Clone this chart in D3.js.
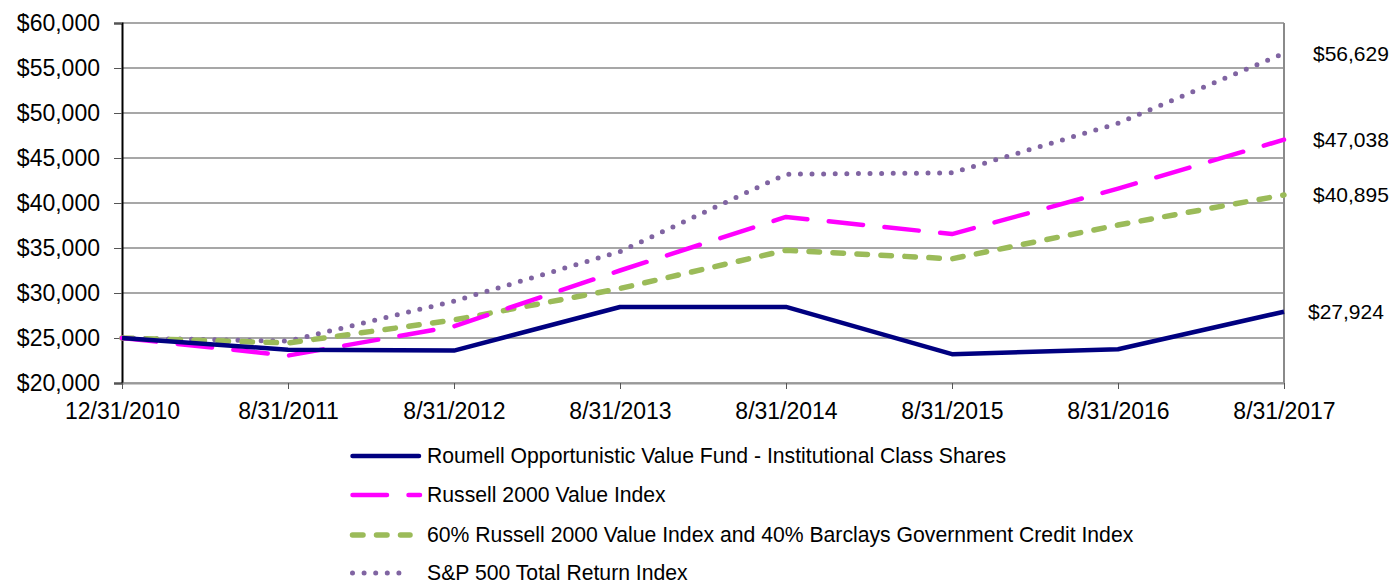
<!DOCTYPE html>
<html lang="en">
<head>
<meta charset="utf-8">
<script src="https://d3js.org/d3.v7.min.js"></script>
<style>
  body { margin: 0; background: #fff; }
  text { font-family: "Liberation Sans", Arial, sans-serif; fill: #000; }
</style>
</head>
<body>
<script>
// categories and series values
var dates = ["12/31/2010", "8/31/2011", "8/31/2012", "8/31/2013", "8/31/2014", "8/31/2015", "8/31/2016", "8/31/2017"];
var fund    = [25000, 23700, 23600, 28450, 28450, 23200, 23750, 27924];
var russell = [25000, 23050, 26300, 32500, 38450, 36550, 41600, 47038];
var blend   = [25000, 24450, 27000, 30500, 34750, 33800, 37550, 40895];
var sp500   = [25000, 24650, 29100, 34600, 43200, 43350, 48850, 56629];
var yTicks  = [20000, 25000, 30000, 35000, 40000, 45000, 50000, 55000, 60000];
var seriesNames = [
  "Roumell Opportunistic Value Fund - Institutional Class Shares",
  "Russell 2000 Value Index",
  "60% Russell 2000 Value Index and 40% Barclays Government Credit Index",
  "S&P 500 Total Return Index"
];

var w = 1392, h = 585;
var plotLeft = 122, plotRight = 1284, plotTop = 23, plotBottom = 383;

var svg = d3.select("body").append("svg")
  .attr("width", w).attr("height", h);

var x = d3.scalePoint().domain(dates).range([plotLeft, plotRight]);
var y = d3.scaleLinear().domain([20000, 60000]).range([plotBottom, plotTop]);
var fmt = d3.format("$,");

// gridlines
svg.append("g").selectAll("line")
  .data(yTicks)
  .enter().append("line")
  .attr("x1", plotLeft).attr("x2", plotRight)
  .attr("y1", function(d) { return y(d); })
  .attr("y2", function(d) { return y(d); })
  .attr("stroke", "#8a8a8a")
  .attr("stroke-width", 1.5);

// right border
svg.append("line")
  .attr("x1", plotRight).attr("x2", plotRight).attr("y1", plotTop).attr("y2", plotBottom)
  .attr("stroke", "#8a8a8a").attr("stroke-width", 2);

// y axis
var yAxis = d3.axisLeft(y).tickValues(yTicks).tickFormat(fmt).tickSize(8).tickPadding(14);
var gy = svg.append("g").attr("transform", "translate(" + plotLeft + ",0)").call(yAxis);
gy.select(".domain").attr("stroke", "#000").attr("stroke-width", 2);
gy.selectAll(".tick line").attr("stroke", "#555");
gy.selectAll("text").style("font-size", "23px").style("font-family", "'Liberation Sans', Arial, sans-serif").attr("fill", "#000");

// x axis
var xAxis = d3.axisBottom(x).tickSize(6).tickPadding(14).tickSizeOuter(0);
var gx = svg.append("g").attr("transform", "translate(0," + plotBottom + ")").call(xAxis);
gx.select(".domain").attr("stroke", "#999").attr("stroke-width", 2);
gx.selectAll(".tick line").attr("stroke", "#555");
gx.selectAll("text").style("font-size", "23px").style("font-family", "'Liberation Sans', Arial, sans-serif").attr("fill", "#000");

// series styles
var series = [
  { name: seriesNames[0], values: fund,    color: "#000080", width: 4.5, dash: null,        legendEnd: 419 },
  { name: seriesNames[1], values: russell, color: "#FF00FF", width: 4.5, dash: "34.5,21.5", legendEnd: 420 },
  { name: seriesNames[2], values: blend,   color: "#9BBB59", width: 5.5, dash: "10.5,13.5", legendEnd: 410 },
  { name: seriesNames[3], values: sp500,   color: "#8064A2", width: 5,   dash: "0,11.6",    legendEnd: 410 }
];

var line = d3.line()
  .x(function(d, i) { return x(dates[i]); })
  .y(function(d) { return y(d); });

// draw back to front so the fund sits on top like the reference
[3, 2, 1, 0].forEach(function(k) {
  var s = series[k];
  svg.append("path")
    .datum(s.values)
    .attr("fill", "none")
    .attr("stroke", s.color)
    .attr("stroke-width", s.width)
    .attr("stroke-linecap", s.dash ? "round" : "butt")
    .attr("stroke-linejoin", "round")
    .attr("stroke-dasharray", s.dash)
    .attr("d", line);
});

// end labels
var labelX = [1308, 1313, 1313, 1313];
series.forEach(function(s, k) {
  var v = s.values[s.values.length - 1];
  svg.append("text")
    .attr("x", labelX[k])
    .attr("y", y(v))
    .attr("dy", "0.35em")
    .style("font-size", "21px")
    .text(fmt(v));
});

// legend
var legendY = [456, 495, 535, 573];
series.forEach(function(s, k) {
  var g = svg.append("g").attr("transform", "translate(0," + legendY[k] + ")");
  g.append("line")
    .attr("x1", 352.5).attr("x2", s.legendEnd)
    .attr("stroke", s.color)
    .attr("stroke-width", s.width)
    .attr("stroke-linecap", "round")
    .attr("stroke-dasharray", s.dash);
  g.append("text")
    .attr("x", 427)
    .attr("dy", "0.35em")
    .style("font-size", "21.2px")
    .text(s.name);
});
</script>
</body>
</html>
